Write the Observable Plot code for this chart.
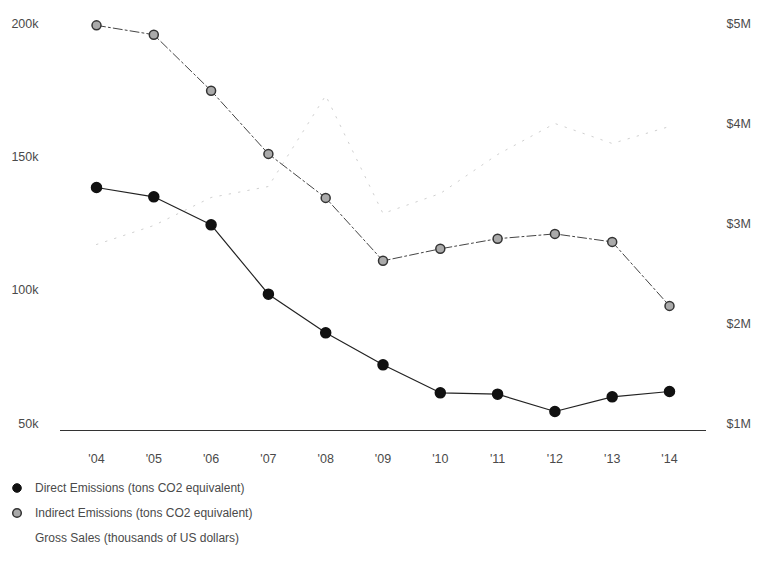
<!DOCTYPE html>
<html>
<head>
<meta charset="utf-8">
<script src="https://cdn.jsdelivr.net/npm/d3@7"></script>
<script src="https://cdn.jsdelivr.net/npm/@observablehq/plot@0.6"></script>
<style>
  body { margin: 0; background: #fff; font-family: "Liberation Sans", Arial, sans-serif; }
  #legend { margin-left: 11px; color: #4a4a4a; font-size: 12px; }
  .row { height: 25px; display: flex; align-items: center; }
  .sym { width: 12px; height: 12px; margin-right: 12px; flex: none; }
</style>
</head>
<body>
<div id="chart"></div>
<div id="legend"></div>
<script>
// Years on the x axis
const years = [2004, 2005, 2006, 2007, 2008, 2009, 2010, 2011, 2012, 2013, 2014];

// Emissions, tons CO2 equivalent (left axis)
const directEmissions   = [138500, 135000, 124500, 98500, 84000, 72000, 61500, 61000, 54500, 60000, 62000];
const indirectEmissions = [199300, 195800, 174800, 151100, 134600, 111000, 115500, 119300, 121100, 118100, 94100];

// Gross sales, thousands of US dollars (right axis)
const grossSales = [2790, 2980, 3260, 3370, 4280, 3100, 3300, 3690, 4000, 3800, 3970];

// Axis ticks
const leftTicks  = [50000, 100000, 150000, 200000];
const rightTicks = [1000, 2000, 3000, 4000, 5000];

// Series names for the legend
const seriesNames = [
  "Direct Emissions (tons CO2 equivalent)",
  "Indirect Emissions (tons CO2 equivalent)",
  "Gross Sales (thousands of US dollars)"
];

// Gross sales share the emissions scale through a linear mapping
const salesToEmissions = d3.scaleLinear([1000, 5000], [50000, 200000]);

const direct   = years.map((year, i) => ({year, value: directEmissions[i]}));
const indirect = years.map((year, i) => ({year, value: indirectEmissions[i]}));
const sales    = years.map((year, i) => ({year, value: salesToEmissions(grossSales[i])}));

const textColor = "#4a4a4a";

const chart = Plot.plot({
  width: 764,
  height: 475,
  marginTop: 23,
  marginLeft: 60,
  marginRight: 59,
  marginBottom: 45,
  style: {fontFamily: "'Liberation Sans', Arial, sans-serif", fontSize: "12.5px", color: textColor, background: "#fff"},
  x: {type: "linear", domain: [2004, 2014], insetLeft: 36, insetRight: 36},
  y: {domain: [50000, 200000], insetBottom: 7},
  marks: [
    Plot.frame({anchor: "bottom", stroke: "#333", strokeWidth: 1}),
    Plot.axisX({ticks: years, tickSize: 0, tickPadding: 24, tickFormat: d => "'" + String(d).slice(2), label: null, fill: textColor}),
    Plot.axisY({anchor: "left", ticks: leftTicks, tickSize: 0, tickPadding: 22, tickFormat: d => d / 1000 + "k", label: null, fill: textColor}),
    Plot.axisY({anchor: "right", ticks: rightTicks.map(salesToEmissions), tickSize: 0, tickPadding: 21,
      tickFormat: d => "$" + Math.round(salesToEmissions.invert(d) / 1000) + "M", label: null, fill: textColor}),
    // Gross sales: faint dotted line
    Plot.line(sales, {x: "year", y: "value", stroke: "#cfcfcf", strokeWidth: 1, strokeDasharray: "1.5,8"}),
    // Indirect emissions: dash-dot line with light markers
    Plot.line(indirect, {x: "year", y: "value", stroke: "#444", strokeWidth: 1, strokeDasharray: "9,3,2,3"}),
    Plot.dot(indirect, {x: "year", y: "value", r: 4.5, fill: "#aaa", stroke: "#333", strokeWidth: 1.5}),
    // Direct emissions: solid line with dark markers
    Plot.line(direct, {x: "year", y: "value", stroke: "#222", strokeWidth: 1.2}),
    Plot.dot(direct, {x: "year", y: "value", r: 5, fill: "#111", stroke: "#111"})
  ]
});
document.getElementById("chart").append(chart);

// Legend below the chart
const legendSymbols = [
  {fill: "#111", stroke: "#111", sw: 1},
  {fill: "#aaa", stroke: "#333", sw: 1.5},
  null
];
const legend = d3.select("#legend");
seriesNames.forEach((name, i) => {
  const row = legend.append("div").attr("class", "row");
  const svg = row.append("svg").attr("class", "sym").attr("width", 12).attr("height", 12);
  const s = legendSymbols[i];
  if (s) svg.append("circle").attr("cx", 6).attr("cy", 6).attr("r", 4.3)
    .attr("fill", s.fill).attr("stroke", s.stroke).attr("stroke-width", s.sw);
  row.append("span").text(name);
});
</script>
</body>
</html>
